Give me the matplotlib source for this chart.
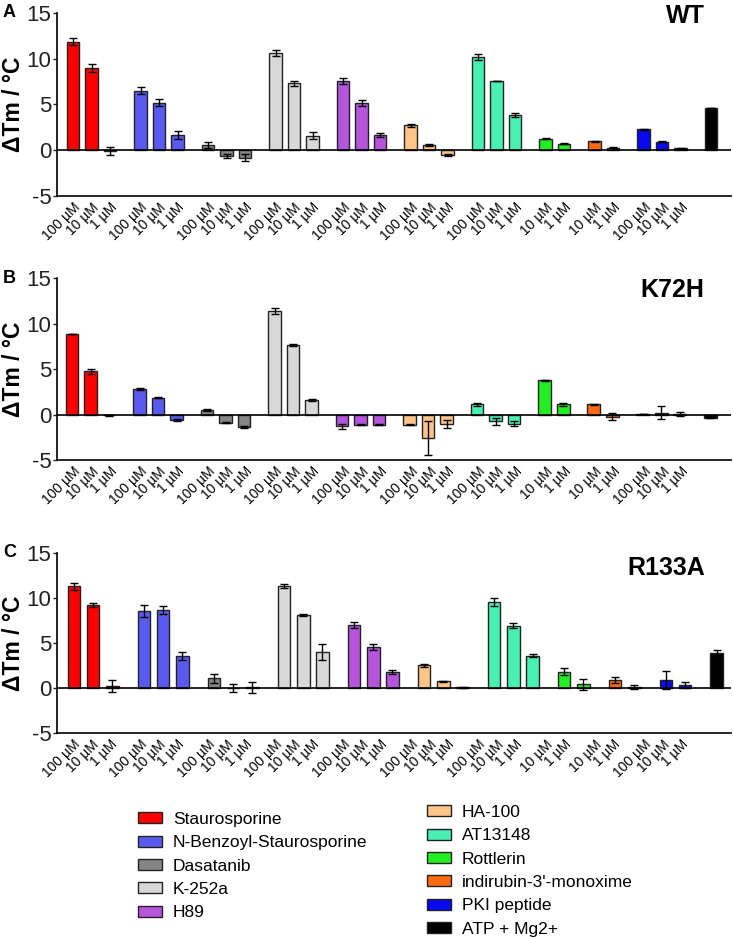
import matplotlib
matplotlib.use('Agg')
import matplotlib.pyplot as plt
from matplotlib.patches import Patch

plt.rcParams['font.family'] = ['Liberation Sans', 'DejaVu Sans']
plt.rcParams['axes.unicode_minus'] = False

compounds = ['Staurosporine', 'N-Benzoyl-Staurosporine', 'Dasatanib', 'K-252a', 'H89',
             'HA-100', 'AT13148', 'Rottlerin', "indirubin-3'-monoxime", 'PKI peptide', 'ATP + Mg2+']
colors = ['#FF0000', '#5A5AF0', '#858585', '#D8D8D8', '#B455DC',
          '#FFC487', '#48F0B4', '#22EE22', '#FF6A10', '#0A0AF0', '#000000']
conc = [['100 µM', '10 µM', '1 µM']] * 7 + [['10 µM', '1 µM']] * 2 + [['100 µM', '10 µM', '1 µM'], ['']]

# WT
wt_mean = [[11.85, 8.95, -0.05], [6.5, 5.2, 1.65], [0.55, -0.65, -0.8], [10.6, 7.3, 1.6],
           [7.55, 5.15, 1.65], [2.7, 0.6, -0.55], [10.15, 7.55, 3.85], [1.25, 0.72],
           [0.98, 0.25], [2.3, 0.9, 0.2], [4.6]]
wt_err = [[0.4, 0.4, 0.45], [0.4, 0.35, 0.4], [0.35, 0.25, 0.4], [0.3, 0.3, 0.35],
          [0.35, 0.3, 0.2], [0.2, 0.1, 0.1], [0.3, 0.05, 0.2], [0.05, 0.05],
          [0.05, 0.05], [0.05, 0.05, 0.05], [0.05]]

# K72H
k72h_mean = [[8.85, 4.75, -0.08], [2.8, 1.83, -0.6], [0.48, -0.9, -1.35], [11.4, 7.6, 1.55],
             [-1.3, -1.1, -1.1], [-1.1, -2.55, -1.0], [1.1, -0.75, -1.0], [3.75, 1.1],
             [1.13, -0.25], [0.05, 0.2, 0.05], [-0.35]]
k72h_err = [[0.05, 0.3, 0.05], [0.15, 0.05, 0.1], [0.1, 0.05, 0.1], [0.35, 0.1, 0.1],
            [0.3, 0.05, 0.05], [0.1, 1.85, 0.45], [0.2, 0.4, 0.3], [0.05, 0.15],
            [0.05, 0.4], [0.02, 0.7, 0.2], [0.05]]

# R133A (PKI only 100 and 10 uM)
r133a_mean = [[11.3, 9.2, 0.2], [8.55, 8.65, 3.5], [1.05, 0.0, 0.05], [11.3, 8.1, 4.0],
              [6.95, 4.55, 1.75], [2.5, 0.75, 0.08], [9.55, 6.9, 3.6], [1.8, 0.4],
              [0.9, 0.08], [0.9, 0.3], [3.85]]
r133a_err = [[0.4, 0.2, 0.7], [0.7, 0.4, 0.45], [0.45, 0.4, 0.6], [0.2, 0.1, 0.9],
             [0.35, 0.3, 0.2], [0.2, 0.05, 0.05], [0.4, 0.3, 0.2], [0.4, 0.6],
             [0.35, 0.2], [1.0, 0.35], [0.4]]


def positions(sizes, step, gap, start=0.0):
    xs = []
    x = start
    for n in sizes:
        grp = []
        for j in range(n):
            grp.append(x)
            x += step
        x += gap - step
        xs.append(grp)
    return xs


tick_pos = positions([len(c) for c in conc], 1.0, 1.65)
tick_x = [x for i, g in enumerate(tick_pos[:-1]) for x in g]
tick_lab = [l for g in conc[:-1] for l in g]

fig = plt.figure(figsize=(7.33, 9.38), dpi=100)

panels = [
    ('A', 'WT', wt_mean, wt_err, 1.0, 1.65, 0.0, [0.791, 0.1955], 0.98),
    ('B', 'K72H', k72h_mean, k72h_err, 1.0, 1.65, -0.05, [0.5096, 0.194], 0.934),
    ('C', 'R133A', r133a_mean, r133a_err, 1.038, 1.71, 0.05, [0.2186, 0.192], 0.917),
]

for letter, title, means, errs, step, gap, start, (bot, h), ty in panels:
    ax = fig.add_axes([57 / 733, bot, 674 / 733, h])
    xs = positions([len(m) for m in means], step, gap, start)
    for i in range(len(compounds)):
        ax.bar(xs[i], means[i], width=0.68, color=colors[i], edgecolor='#222222', linewidth=1,
               yerr=errs[i], zorder=2,
               error_kw=dict(ecolor='black', elinewidth=1, capsize=3, capthick=1, zorder=4))
    ax.axhline(0, color='black', lw=1.2, zorder=3)
    ax.set_xlim(-0.865, 35.57)
    ax.set_ylim(-5, 15)
    ax.set_yticks([-5, 0, 5, 10, 15])
    ax.tick_params(axis='y', labelsize=16, length=3, width=1, colors='#222222', pad=1)
    ax.set_xticks(tick_x)
    ax.set_xticklabels(tick_lab, rotation=45, ha='right', va='top', rotation_mode='anchor',
                       fontsize=10)
    ax.tick_params(axis='x', length=0, pad=3)
    for s in ['top', 'right']:
        ax.spines[s].set_visible(False)
    for s in ['left', 'bottom']:
        ax.spines[s].set_linewidth(1.2)
        ax.spines[s].set_color('black')
    ax.set_ylabel('ΔTm / °C', fontsize=16.5, fontweight='bold')
    ax.yaxis.set_label_coords(-0.047, 0.5)
    ax.text(0.961, ty, title, transform=ax.transAxes, ha='right', va='center',
            fontsize=18, fontweight='bold')
    fig.text(3 / 733, bot + h, letter, ha='left', va='center', fontsize=13, fontweight='bold')

handles = [Patch(facecolor=c, edgecolor='#222222', linewidth=1) for c in colors]
leg_kw = dict(frameon=False, fontsize=12.5, handlelength=1.38, handleheight=0.6,
              handletextpad=0.63, labelspacing=0.48, borderpad=0, borderaxespad=0,
              loc='upper left')
fig.legend(handles[:5], compounds[:5], bbox_to_anchor=(138 / 733, 1 - 812 / 938), **leg_kw)
fig.legend(handles[5:], compounds[5:], bbox_to_anchor=(427 / 733, 1 - 805 / 938), **leg_kw)

fig.savefig('out.png', dpi=100)
